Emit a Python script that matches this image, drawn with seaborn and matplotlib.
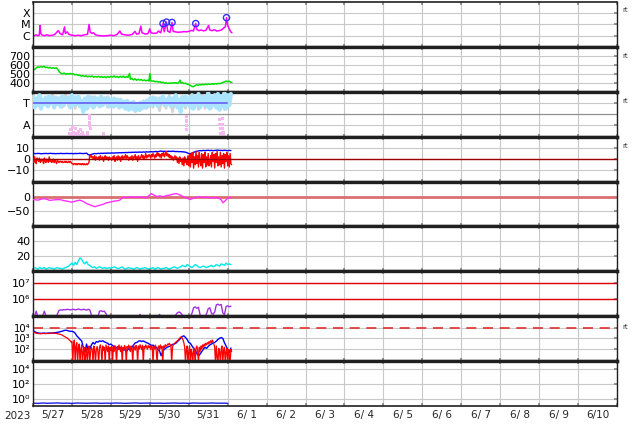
import numpy as np
import pandas as pd
import matplotlib
matplotlib.use("Agg")
import matplotlib.pyplot as plt
from matplotlib.ticker import FixedLocator, FixedFormatter, NullFormatter
import seaborn as sns

# ---------------- data ----------------
start_date = "2023-05-27"
end_date = "2023-06-11"
year_label = "2023"

# Panel 1: X-ray flux (units of C1.0 = 1e-6 W/m2)
xray_days = [0.00,0.04,0.08,0.12,0.16,0.18,0.20,0.24,0.30,0.36,0.42,0.50,0.56,0.62,0.65,0.70,0.76,0.81,0.83,0.88,0.92,
             1.00,1.08,1.16,1.24,1.32,1.40,1.44,1.47,1.52,1.56,1.60,1.70,1.80,1.90,2.00,2.08,2.16,2.23,2.27,2.35,2.45,
             2.55,2.62,2.66,2.72,2.77,2.80,2.88,2.95,3.00,3.03,3.10,3.18,3.22,3.28,3.34,3.37,3.43,3.46,3.52,3.57,3.60,
             3.66,3.72,3.80,3.88,3.95,4.02,4.08,4.12,4.18,4.21,4.26,4.32,4.38,4.44,4.51,4.54,4.60,4.66,4.72,4.78,4.84,
             4.90,4.94,4.97,5.00,5.04,5.08,5.11]
xray_vals = [1.1,1.0,1.2,1.0,1.1,8.0,1.5,1.1,1.0,1.2,1.0,1.1,1.3,2.2,2.8,1.5,1.2,6.0,1.6,2.2,1.3,
             1.1,1.0,1.1,1.0,1.2,1.3,10.0,2.0,1.6,1.8,1.2,1.0,0.95,1.0,1.1,1.0,1.3,2.6,1.4,1.2,1.1,
             1.3,2.4,1.4,1.5,7.0,1.8,1.4,1.5,4.0,1.8,1.6,1.7,2.6,1.8,12.0,2.2,16.0,2.5,2.0,15.0,2.4,
             2.2,2.0,2.1,2.3,2.2,2.5,3.0,2.6,12.0,3.5,2.8,3.2,2.7,3.0,8.0,3.2,2.8,3.4,2.6,2.8,3.2,
             5.0,6.0,40.0,8.0,4.0,2.2,1.8]
flare_days = [3.34, 3.43, 3.57, 4.18, 4.97]
flare_vals = [12.0, 16.0, 15.0, 12.0, 40.0]
xray_ticks = [1, 10, 100]
xray_ticklabels = ["C", "M", "X"]

# Panel 2: solar wind speed (km/s)
wind_days = [0.00,0.04,0.08,0.12,0.16,0.20,0.24,0.28,0.32,0.36,0.40,0.44,0.48,0.52,0.56,0.60,0.64,0.68,0.72,0.76,0.80,
             0.84,0.88,0.92,0.96,1.00,1.04,1.08,1.12,1.16,1.20,1.24,1.28,1.32,1.36,1.40,1.44,1.48,1.52,1.56,1.60,1.64,
             1.68,1.72,1.76,1.80,1.84,1.88,1.92,1.96,2.00,2.04,2.08,2.12,2.16,2.20,2.24,2.28,2.32,2.36,2.40,2.44,2.48,
             2.50,2.54,2.58,2.62,2.66,2.70,2.74,2.78,2.82,2.86,2.90,2.94,2.98,3.00,3.02,3.06,3.10,3.14,3.18,3.22,3.26,
             3.30,3.34,3.38,3.42,3.46,3.50,3.54,3.58,3.62,3.66,3.70,3.74,3.78,3.80,3.84,3.88,3.92,3.96,4.00,4.04,4.08,
             4.12,4.16,4.20,4.24,4.28,4.32,4.36,4.40,4.44,4.48,4.52,4.56,4.60,4.64,4.68,4.72,4.76,4.80,4.84,4.88,4.92,
             4.96,5.00,5.04,5.08,5.11]
wind_vals = [540,548,565,578,572,580,575,583,570,574,566,572,562,568,560,566,548,520,505,500,508,
             495,502,498,504,496,500,488,494,482,486,474,480,470,478,466,474,468,476,462,470,464,
             472,462,470,460,468,458,470,460,472,464,476,462,470,458,472,460,474,458,470,460,505,
             440,450,432,445,428,440,430,436,424,432,422,430,420,500,425,418,420,412,416,408,412,
             402,406,396,400,392,398,394,400,396,402,394,400,430,398,402,392,396,384,380,372,360,
             356,368,378,372,382,376,384,378,386,380,388,382,390,384,392,386,394,390,398,404,410,
             420,412,418,406,404]
wind_ticks = [400, 500, 600, 700]

# Panel 3: sector (T / A), hourly
sector_vals = [1.6,0.6,1.4,0.8,1.7,0.5,1.3,0.9,1.5,0.7,1.6,1.0,1.4,0.6,1.5,0.9,1.3,0.7,1.6,0.8,1.4,1.1,1.5,0.6,
               1.7,0.8,1.5,0.9,1.6,0.7,1.2,0.2,1.4,0.5,1.6,0.8,1.3,0.6,1.5,0.9,1.4,0.7,1.6,0.8,1.3,1.0,1.5,0.7,
               1.3,0.7,1.4,0.8,1.2,0.6,1.3,0.7,1.1,0.5,1.2,0.4,1.0,0.5,1.1,0.3,0.9,0.4,1.0,0.5,1.1,0.6,1.2,0.7,
               1.4,0.8,1.5,0.9,1.3,0.7,1.4,1.0,1.6,0.8,1.3,0.9,1.5,0.7,1.4,0.9,1.7,0.6,1.3,0.2,1.5,0.8,1.6,0.9,
               1.4,0.6,1.7,0.5,1.5,0.8,1.8,0.6,1.4,0.9,1.6,0.7,1.9,0.5,1.5,0.8,1.7,0.6,1.8,0.4,1.6,0.7,1.9,0.5,
               1.7,0.8,1.8]
sector_gray_vals = [1.5,0.7,1.6,0.8,1.5,0.7,1.8,0.8,1.5,0.6,1.9,0.7,1.9,0.5,1.5,0.6,1.3,0.5,1.6,0.6,1.3,0.7,1.5,0.6,
                    1.3,0.6,1.4,0.6,1.2,0.5,1.1,0.4,1.0,0.3,1.2,0.5,1.3,0.6,1.5,0.3,1.4,0.5,1.7,0.2,1.5,0.6,1.6,0.5,
                    1.4,0.5,1.6,0.4,1.9,0.5,1.5,0.5,1.8,0.6,1.9,0.4]
pink_days = [0.95,0.97,1.00,1.02,1.05,1.08,1.10,1.13,1.16,1.19,1.22,1.25,1.28,1.30,1.40,1.41,1.46,1.46,1.46,1.46,1.47,
             1.80,1.81,3.94,3.94,3.95,3.95,4.80,4.80,4.81,4.82,4.86,4.86,4.87,4.88,4.89]
pink_vals = [-1.7,-1.4,-1.9,-1.2,-1.6,-1.8,-1.3,-1.7,-1.5,-1.9,-1.4,-1.8,-1.6,-1.9,-1.6,-1.9,-0.1,-0.4,-0.7,-1.0,-1.3,
             -1.7,-1.9,-0.2,-0.6,-1.0,-1.4,-0.5,-0.9,-1.3,-1.7,-0.4,-0.9,-1.3,-1.6,-1.9]
sector_level = 1.0
sector_level_end = 4.99
sector_ticks = [1, -1]
sector_ticklabels = ["T", "A"]

# Panel 4: IMF Bt (blue, hourly) / Bz (red, half-hourly) (nT)
bt_vals = [4.8,5.0,4.9,5.1,5.0,4.8,4.9,5.0,5.1,4.9,5.0,5.2,4.9,5.0,4.8,5.0,4.9,5.1,5.0,4.9,5.0,5.1,4.9,5.0,
           5.0,4.8,5.1,4.9,5.0,5.2,5.0,4.9,5.1,5.3,4.0,3.6,4.2,4.6,5.0,4.8,5.1,5.0,5.2,5.1,5.3,5.2,5.4,5.3,
           5.4,5.5,5.3,5.6,5.5,5.7,5.6,5.8,5.7,5.9,5.8,6.0,5.9,6.1,6.0,6.2,6.1,6.2,6.3,6.1,6.4,6.2,6.5,6.3,
           6.5,6.6,6.4,6.7,6.8,6.6,6.9,7.2,6.8,7.0,6.7,6.9,7.0,6.8,7.1,6.9,6.7,6.8,6.6,6.7,6.5,6.4,6.2,5.6,
           5.0,4.8,5.5,6.0,6.6,7.0,7.3,7.6,7.4,7.8,7.5,7.7,7.9,7.6,7.8,7.5,7.7,7.9,8.0,7.7,7.8,7.6,7.9,7.7,
           7.5,7.8,7.6]
bz_vals = [0,-3,2,-2,-4,1,0,-2,1,-3,-2,0,-1,-4,1,-2,-3,0,-1,-3,2,-2,-1,-3,
           -2,0,-3,-1,-2,-4,-1,-2,-3,-2,-2,-3,-2,-3,-3,-2,-3,-2,-3,-3,-2,-3,-2,-3,
           -4,-4,-5,-4,-4,-5,-4,-5,-4,-4,-5,-4,-5,-4,-5,-4,-5,-5,-4,-5,-4,-3,4,2,
           3,1,2,0,3,-1,2,1,0,2,-1,3,1,0,2,-2,1,3,0,2,1,-1,2,0,
           1,-1,2,0,3,-2,1,2,-1,3,0,2,-2,1,3,0,2,1,4,0,3,2,-1,1,
           2,0,3,-1,2,1,4,0,2,-2,3,1,0,2,4,1,3,0,2,5,1,3,2,4,
           3,1,4,2,5,3,1,4,2,6,3,5,2,4,1,5,3,6,2,4,7,3,5,2,
           4,1,3,0,2,-1,1,3,0,2,-3,1,-4,2,-2,0,-5,1,-6,2,-3,0,-5,3,
           -6,4,-7,5,-3,6,-8,2,-5,7,-4,3,-7,6,-2,-6,5,-8,4,-3,6,-7,2,-5,5,-6,-4,3,-7,6,
           -2,4,-8,5,-3,7,-6,2,-5,6,-7,3,-4,5,-8,4,-2,6,-6,3,-7,5,-4,-5]
imf_ticks = [10, 0, -10]
imf_ticklabels = ["10", "0", "\u221210"]
imf_zero = 0

# Panel 5: Dst (nT)
dst_days = [0.00,0.13,0.26,0.35,0.43,0.55,0.69,0.80,0.90,0.99,1.10,1.20,1.30,1.37,1.45,1.52,1.59,1.66,1.72,1.80,
            1.89,2.00,2.10,2.18,2.23,2.31,2.40,2.50,2.57,2.65,2.72,2.83,2.90,2.97,3.04,3.10,3.18,3.26,3.35,3.43,
            3.52,3.60,3.68,3.76,3.85,3.94,4.03,4.12,4.20,4.28,4.38,4.47,4.55,4.62,4.70,4.78,4.84,4.88,4.93,4.98,
            5.05,5.10]
dst_vals = [-10,-12,-7,-9,-13,-11,-10,-14,-16,-19,-15,-12,-17,-23,-27,-31,-34,-31,-29,-26,
            -21,-18,-15,-14,-12,-2,-4,-1,-2,-3,-1,-2,-5,2,10,5,0,2,-1,3,
            5,8,10,6,0,-4,-10,-6,-2,-1,-3,-2,-4,-5,-3,-6,-12,-21,-15,-8,
            -3,-5]
dst_ticks = [0, -50]
dst_ticklabels = ["0", "\u221250"]
dst_zero = 0

# Panel 6: cyan index, hourly
cyan_vals = [4,5,4,3,5,4,4,5,3,4,5,4,4,3,4,5,4,4,3,4,5,6,7,9,
             11,8,12,9,14,18,16,12,10,13,9,8,6,5,6,4,5,6,5,4,5,4,4,5,
             4,5,6,5,4,4,5,6,4,3,4,5,4,4,3,4,5,4,3,4,4,5,4,3,
             4,4,5,3,4,5,4,3,4,4,5,4,3,4,5,6,5,4,5,6,8,7,6,9,
             8,6,5,7,9,8,6,5,6,7,6,5,6,7,8,6,7,9,8,7,10,9,8,11,9,10,9]
cyan_ticks = [40, 20]

# Panel 7: electron flux, hourly
elec_vals = [0.9e5,1.0e5,2.0e5,0.9e5,0.9e5,0.9e5,1.1e5,2.0e5,1.0e5,0.9e5,0.9e5,0.9e5,0.9e5,0.9e5,0.9e5,1.3e5,2.2e5,2.4e5,2.3e5,2.5e5,2.4e5,2.6e5,2.5e5,2.4e5,
             2.5e5,2.6e5,2.4e5,2.5e5,2.7e5,2.5e5,2.4e5,2.6e5,2.5e5,2.3e5,2.6e5,2.4e5,1.2e5,0.9e5,0.9e5,0.9e5,0.9e5,2.0e5,2.1e5,1.9e5,2.0e5,1.4e5,0.9e5,0.9e5,
             0.9e5,0.9e5,0.9e5,0.9e5,0.9e5,0.9e5,0.9e5,0.9e5,0.9e5,0.9e5,0.9e5,0.9e5,0.9e5,0.9e5,0.9e5,0.9e5,0.9e5,0.9e5,1.3e5,0.9e5,0.9e5,0.9e5,0.9e5,0.9e5,
             0.9e5,0.9e5,0.9e5,0.9e5,0.9e5,0.9e5,1.3e5,0.9e5,0.9e5,0.9e5,0.9e5,0.9e5,0.9e5,0.9e5,0.9e5,0.9e5,1.2e5,1.6e5,1.8e5,1.6e5,1.2e5,0.9e5,0.9e5,0.9e5,
             0.9e5,0.9e5,1.5e5,3.2e5,3.6e5,3.0e5,3.4e5,1.2e5,0.9e5,0.9e5,0.9e5,1.4e5,2.8e5,3.2e5,1.5e5,1.3e5,1.8e5,4.8e5,5.2e5,4.6e5,5.0e5,1.6e5,1.2e5,3.8e5,
             4.2e5,3.6e5,4.0e5]
elec_thresholds = [1e6, 1e7]
elec_ticks = [1e6, 1e7]
elec_ticklabels = ["10\u2076", "10\u2077"]

# Panel 8: blue flux (hourly) / red flux (half-hourly)
flux_blue = [5500,4200,3500,3200,3000,2900,3000,3100,2900,3000,3200,3000,3100,3300,3400,3600,3800,4200,4500,5200,5600,5400,4800,4500,
             4400,4000,3000,1700,1200,800,590,150,52,300,80,100,250,420,300,500,450,590,520,600,480,420,350,260,
             300,220,180,150,120,100,130,90,80,100,70,120,80,150,250,380,420,550,600,520,580,480,400,350,
             280,200,240,180,150,90,70,25,60,100,130,160,180,220,280,300,350,500,700,1000,1500,1700,1200,800,
             420,350,200,120,80,40,25,35,60,100,150,120,180,250,300,380,420,550,800,1000,1200,1000,400,200,
             100,50,130]
flux_red = [4000,3600,3300,3100,3000,2900,2800,2750,2700,2650,2700,2750,2800,2850,2750,2700,2800,2900,2850,2800,2900,3000,3050,3100,
            3050,3000,2950,2900,2850,2800,2700,2600,2500,2400,2300,2200,2000,1800,1600,1500,1300,1200,1100,950,800,700,600,450,
            500,5,350,700,5,200,400,5,150,300,5,100,250,5,60,150,5,30,120,5,80,200,5,60,
            150,90,5,200,120,5,80,180,60,5,150,250,100,5,200,80,150,5,250,120,60,200,5,150,
            80,200,5,150,60,220,100,5,180,90,250,120,60,200,5,150,80,220,130,5,180,100,240,150,
            60,200,120,5,250,140,80,220,160,5,200,100,260,150,90,230,5,180,120,250,160,100,220,140,
            200,90,250,150,5,180,110,240,60,5,150,200,90,250,120,180,5,200,140,260,180,220,300,250,
            350,280,200,5,150,260,300,380,450,500,600,700,900,1100,1300,1400,1000,700,400,150,5,100,200,5,
            60,200,5,100,40,5,150,60,5,120,200,80,5,150,60,200,100,250,150,300,200,350,250,400,300,500,350,
            600,400,700,500,300,150,5,200,20,5,120,60,5,100,200,5,80,150,5,60,120,5,90,30,5,100,60]
flux_threshold = [1e4]
flux_ticks = [1e2, 1e3, 1e4]
flux_ticklabels = ["10\u00b2", "10\u00b3", "10\u2074"]

# Panel 9: low-level flux, 3-hourly
low_vals = [0.30,0.28,0.31,0.29,0.30,0.32,0.29,0.30,0.28,0.31,0.30,0.29,0.30,0.31,0.28,0.30,0.29,0.31,0.30,0.28,
            0.30,0.32,0.29,0.30,0.31,0.29,0.30,0.28,0.30,0.31,0.29,0.30,0.28,0.31,0.30,0.29,0.30,0.31,0.29,0.30,0.29]
low_ticks = [1e0, 1e2, 1e4]
low_ticklabels = ["10\u2070", "10\u00b2", "10\u2074"]

# ---------------- helpers ----------------
base = pd.Timestamp(start_date)

def by_days(days):
    return base + pd.to_timedelta(days, unit="D")

def by_freq(vals, freq):
    return pd.date_range(base, periods=len(vals), freq=freq)

sns.set_theme(style="white")
plt.rcParams["font.family"] = ["DejaVu Sans"]

fig = plt.figure(figsize=(6.34, 4.24), dpi=100)
left, right = 33 / 634, 617 / 634
top, bottom = 1 - 2 / 424, 1 - 406 / 424
n = 9
h = (top - bottom) / n
axes = [fig.add_axes([left, top - (i + 1) * h, right - left, h]) for i in range(n)]

grid_c = "#c8c8c8"
xmin, xmax = pd.Timestamp(start_date), pd.Timestamp(end_date)
day_ticks = pd.date_range(xmin, xmax, freq="D")
noon_ticks = pd.date_range(xmin + pd.Timedelta(hours=12), xmax, freq="D")
noon_labels = [f"{t.month}/{t.day:2d}" for t in noon_ticks]

# Panel 1
ax = axes[0]
ax.set_yscale("log")
sns.lineplot(x=by_days(xray_days), y=xray_vals, ax=ax, color="#ff00ff", linewidth=1.1)
sns.scatterplot(x=by_days(flare_days), y=flare_vals, ax=ax, marker="o", s=20,
                facecolors="none", edgecolors="#3030ff", linewidth=1.0, zorder=5)
ax.set_ylim(0.1, 1000)
ax.set_yticks(xray_ticks)
ax.set_yticklabels(xray_ticklabels)

# Panel 2
ax = axes[1]
sns.lineplot(x=by_days(wind_days), y=wind_vals, ax=ax, color="#00e000", linewidth=1.1)
ax.set_ylim(300, 800)
ax.set_yticks(wind_ticks)

# Panel 3
ax = axes[2]
ax.axhline(0, color="#909090", linewidth=0.9, zorder=1)
sns.lineplot(x=by_freq(sector_gray_vals, "2h"), y=sector_gray_vals, ax=ax, color="#d4d4d4", linewidth=1.8, zorder=2)
sns.lineplot(x=by_freq(sector_vals, "h"), y=sector_vals, ax=ax, color="#aae4ff", linewidth=3.0, zorder=3)
sns.scatterplot(x=by_days(pink_days), y=pink_vals, ax=ax, marker="s", s=5, color="#f5b8f0",
                edgecolor="none", zorder=4)
ax.plot([by_days([0.0])[0], by_days([sector_level_end])[0]], [sector_level, sector_level],
        color="#7070f0", linewidth=1.4, zorder=5)
ax.set_ylim(-2, 2)
ax.set_yticks(sector_ticks)
ax.set_yticklabels(sector_ticklabels)

# Panel 4
ax = axes[3]
sns.lineplot(x=by_freq(bt_vals, "h"), y=bt_vals, ax=ax, color="#0000ff", linewidth=1.0, zorder=3)
sns.lineplot(x=by_freq(bz_vals, "30min"), y=bz_vals, ax=ax, color="#ff0000", linewidth=1.0, zorder=4)
ax.axhline(imf_zero, color="#a00000", linewidth=1.0, zorder=5)
ax.set_ylim(-20, 20)
ax.set_yticks(imf_ticks)
ax.set_yticklabels(imf_ticklabels)

# Panel 5
ax = axes[4]
ax.axhline(dst_zero, color="#d87070", linewidth=2.0, zorder=2)
sns.lineplot(x=by_days(dst_days), y=dst_vals, ax=ax, color="#ff30ff", linewidth=1.0, zorder=3)
ax.set_ylim(-100, 50)
ax.set_yticks(dst_ticks)
ax.set_yticklabels(dst_ticklabels)

# Panel 6
ax = axes[5]
sns.lineplot(x=by_freq(cyan_vals, "h"), y=cyan_vals, ax=ax, color="#00e8e8", linewidth=1.0)
ax.set_ylim(0, 60)
ax.set_yticks(cyan_ticks)

# Panel 7
ax = axes[6]
ax.set_yscale("log")
for th in elec_thresholds:
    ax.axhline(th, color="#e00000", linewidth=1.0, zorder=2)
sns.lineplot(x=by_freq(elec_vals, "h"), y=elec_vals, ax=ax, color="#a030e0", linewidth=1.0, zorder=3)
ax.set_ylim(1e5, 4.8e7)
ax.set_yticks(elec_ticks)
ax.set_yticklabels(elec_ticklabels)

# Panel 8
ax = axes[7]
ax.set_yscale("log")
for th in flux_threshold:
    ax.axhline(th, color="#e03030", linewidth=1.2, linestyle=(0, (6, 4)), zorder=2)
sns.lineplot(x=by_freq(flux_blue, "h"), y=flux_blue, ax=ax, color="#0000ff", linewidth=1.0, zorder=3)
sns.lineplot(x=by_freq(flux_red, "30min"), y=flux_red, ax=ax, color="#ff0000", linewidth=0.9, zorder=4)
ax.set_ylim(8, 1.1e5)
ax.set_yticks(flux_ticks)
ax.set_yticklabels(flux_ticklabels)

# Panel 9
ax = axes[8]
ax.set_yscale("log")
sns.lineplot(x=by_freq(low_vals, "3h"), y=low_vals, ax=ax, color="#2020e0", linewidth=1.0)
ax.set_ylim(10 ** -0.9, 1e5)
ax.set_yticks(low_ticks)
ax.set_yticklabels(low_ticklabels)

label_sizes = {6: 8, 7: 7.2, 8: 8}

for i, ax in enumerate(axes):
    ax.set_xlim(xmin, xmax)
    ax.set_xlabel("")
    ax.set_ylabel("")
    if ax.get_yscale() == "log":
        ax.yaxis.set_minor_locator(FixedLocator([]))
    ax.set_xticks(day_ticks)
    ax.set_xticks(noon_ticks, minor=True)
    ax.grid(True, which="major", color=grid_c, linewidth=0.8)
    ax.set_axisbelow(True)
    ax.tick_params(axis="y", which="both", left=False, right=True, direction="in", length=2,
                   labelsize=label_sizes.get(i, 8), pad=2, colors="black", labelcolor="black")
    ax.tick_params(axis="y", which="major", right=True, color="#888888")
    ax.tick_params(axis="x", which="major", bottom=True, top=True, direction="in", length=2,
                   color="#888888", labelbottom=False)
    ax.tick_params(axis="x", which="minor", bottom=False, top=False, length=0)
    ax.xaxis.set_major_formatter(NullFormatter())
    if i == n - 1:
        ax.xaxis.set_minor_formatter(FixedFormatter(noon_labels))
        ax.tick_params(axis="x", which="minor", labelbottom=True, labelsize=7.5, pad=3)
    else:
        ax.xaxis.set_minor_formatter(NullFormatter())
    for s in ["left", "right"]:
        ax.spines[s].set_color("#202020")
        ax.spines[s].set_linewidth(1.0)
    for s in ["top", "bottom"]:
        ax.spines[s].set_color("#202020")
        ax.spines[s].set_linewidth(2.4)
    if ax.get_legend() is not None:
        ax.get_legend().remove()

axes[0].spines["top"].set_linewidth(1.2)
axes[-1].spines["bottom"].set_linewidth(1.2)

for ypix in [10, 56, 101, 146, 327]:
    fig.text(622 / 634, 1 - ypix / 424, "rt", fontsize=5, ha="left", va="center", color="#333333")

fig.text(17 / 634, 1 - 416 / 424, year_label, fontsize=7.5, ha="center", va="center")

fig.savefig("out.png", dpi=100)
